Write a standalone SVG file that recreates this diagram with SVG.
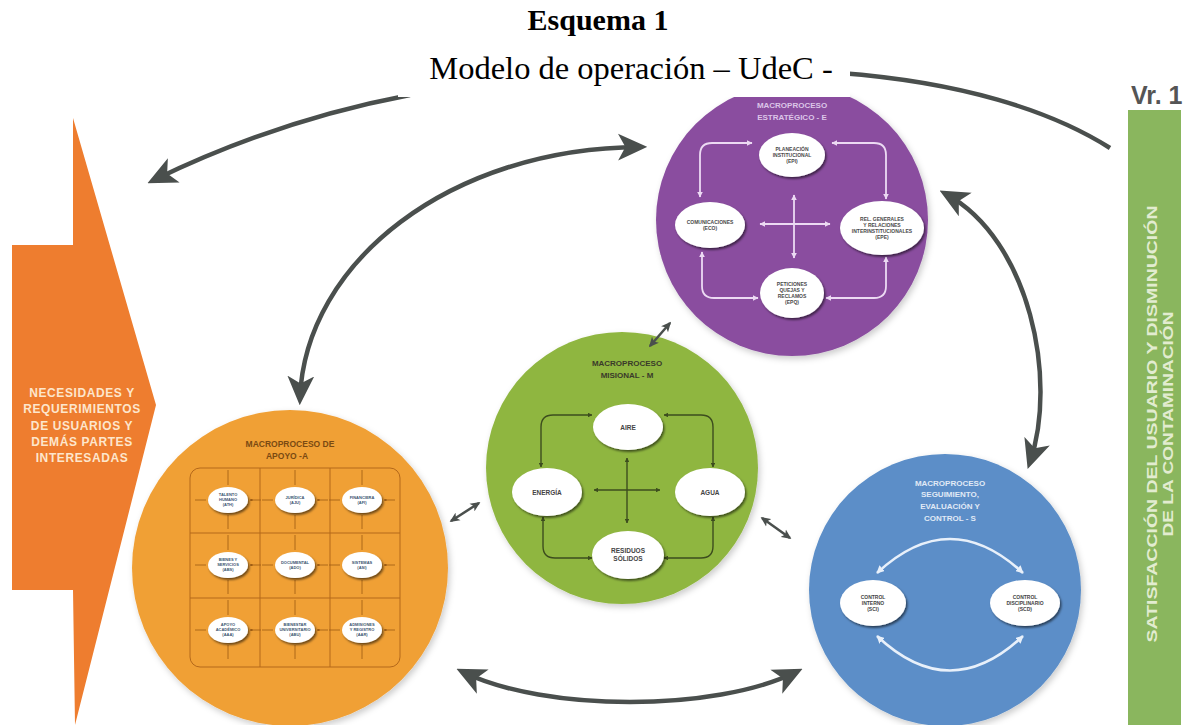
<svg xmlns="http://www.w3.org/2000/svg" width="1193" height="725" viewBox="0 0 1193 725">
<defs>
<style>
.t{font-family:"Liberation Sans",Arial,sans-serif;font-weight:bold;text-anchor:middle}
.big{fill:none;stroke:#4a4f4d;stroke-width:4.5;stroke-linecap:butt}
.sml{fill:none;stroke:#4a4f4d;stroke-width:2.5}
.pl{fill:none;stroke:#ecdaf3;stroke-width:1.8}
.gl{fill:none;stroke:#3d4d1e;stroke-width:1.4}
.bl{fill:none;stroke:#e8f0fa;stroke-width:2.6}
.ol{fill:none;stroke:#9c5a12;stroke-width:0.8}
.ell{fill:#ffffff;filter:url(#sh)}
.pt{font-size:5px;fill:#4a4a4a}
.gt{font-size:6.5px;fill:#444}
.ot{font-size:4px;fill:#3b5570}
.btx{font-size:5px;fill:#444}
</style>
<filter id="sh" x="-30%" y="-30%" width="170%" height="170%">
<feDropShadow dx="1.5" dy="2" stdDeviation="1.2" flood-color="#000" flood-opacity="0.55"/>
</filter>
<filter id="csh" x="-10%" y="-10%" width="125%" height="125%">
<feDropShadow dx="2" dy="3" stdDeviation="3" flood-color="#000" flood-opacity="0.2"/>
</filter>
<marker id="ah" viewBox="0 0 12 12" refX="9" refY="6" markerWidth="6.5" markerHeight="6.5" orient="auto-start-reverse" markerUnits="strokeWidth">
<path d="M0,0.5 L12,6 L0,11.5 L3,6 z" fill="#4a4f4d"/>
</marker>
<marker id="ahs" viewBox="0 0 12 12" refX="10" refY="6" markerWidth="4" markerHeight="4" orient="auto-start-reverse" markerUnits="strokeWidth">
<path d="M0,0.5 L12,6 L0,11.5 L3,6 z" fill="#4a4f4d"/>
</marker>
<marker id="ap" viewBox="0 0 10 10" refX="9" refY="5" markerWidth="3.2" markerHeight="3.2" orient="auto-start-reverse" markerUnits="strokeWidth">
<path d="M0,0 L10,5 L0,10 z" fill="#ecdaf3"/>
</marker>
<marker id="ag" viewBox="0 0 10 10" refX="9" refY="5" markerWidth="3.5" markerHeight="3.5" orient="auto-start-reverse" markerUnits="strokeWidth">
<path d="M0,0 L10,5 L0,10 z" fill="#3d4d1e"/>
</marker>
<marker id="ab" viewBox="0 0 10 10" refX="9" refY="5" markerWidth="3" markerHeight="3" orient="auto-start-reverse" markerUnits="strokeWidth">
<path d="M0,0 L10,5 L0,10 z" fill="#e8f0fa"/>
</marker>
<marker id="ao" viewBox="0 0 10 10" refX="9" refY="5" markerWidth="3.5" markerHeight="3.5" orient="auto" markerUnits="strokeWidth">
<path d="M0,0 L10,5 L0,10 z" fill="#9c5a12"/>
</marker>
<g id="ticks">
<path class="ol" marker-end="url(#ao)" d="M0,-30 V-15 M0,29 V15 M-33,0 H-22 M33,0 H22"/>
</g>
</defs>

<rect width="1193" height="725" fill="#ffffff"/>

<!-- input arrow -->
<g id="input-needs">
<path d="M73,118 L156,405 L75,725 L73,590 L12,590 L12,245 L73,245 Z" fill="#ee7d2f"/>
<g class="t" style="font-size:12px;letter-spacing:0.6px" fill="#fde6cc">
<text x="82" y="397">NECESIDADES Y</text>
<text x="82" y="413">REQUERIMIENTOS</text>
<text x="82" y="430">DE USUARIOS Y</text>
<text x="82" y="446">DEMÁS PARTES</text>
<text x="82" y="462">INTERESADAS</text>
</g>
</g>

<!-- output bar -->
<g id="output-bar">
<text x="1131" y="104" style="font-family:'Liberation Sans',Arial,sans-serif;font-weight:bold;font-size:25px" fill="#555">Vr. 1</text>
<rect x="1128" y="110" width="53" height="615" fill="#8ab65e"/>
<g class="t" style="font-size:15px" fill="#e2ecd0">
<text transform="translate(1157,424) rotate(-90)" textLength="437" lengthAdjust="spacingAndGlyphs">SATISFACCIÓN DEL USUARIO Y DISMINUCIÓN</text>
<text transform="translate(1173,424) rotate(-90)" textLength="225" lengthAdjust="spacingAndGlyphs">DE LA CONTAMINACIÓN</text>
</g>
</g>

<!-- purple: strategic -->
<g id="macro-estrategico">
<circle cx="792" cy="220" r="136" fill="#8a4e9f" filter="url(#csh)"/>
<g class="t" style="font-size:8px" fill="#dcc5e8">
<text x="792" y="108">MACROPROCESO</text>
<text x="792" y="120">ESTRATÉGICO - E</text>
</g>
<path class="pl" marker-start="url(#ap)" marker-end="url(#ap)" d="M752,143 H712 Q700,143 700,155 V197"/>
<path class="pl" marker-start="url(#ap)" marker-end="url(#ap)" d="M832,143 H874 Q886,143 886,155 V199"/>
<path class="pl" marker-start="url(#ap)" marker-end="url(#ap)" d="M702,252 V286 Q702,298 714,298 H758"/>
<path class="pl" marker-start="url(#ap)" marker-end="url(#ap)" d="M886,257 V286 Q886,298 874,298 H826"/>
<path class="pl" marker-start="url(#ap)" marker-end="url(#ap)" d="M794,195 V258"/>
<path class="pl" marker-start="url(#ap)" marker-end="url(#ap)" d="M760,224 H830"/>
<ellipse class="ell" cx="792" cy="155" rx="33" ry="22"/>
<ellipse class="ell" cx="710" cy="225" rx="35" ry="23"/>
<ellipse class="ell" cx="882" cy="228" rx="42" ry="27"/>
<ellipse class="ell" cx="792" cy="293" rx="32" ry="25"/>
<g class="t pt">
<text x="792" y="151">PLANEACIÓN</text><text x="792" y="157">INSTITUCIONAL</text><text x="792" y="163">(EPI)</text>
<text x="710" y="224">COMUNICACIONES</text><text x="710" y="230">(ECO)</text>
<text x="882" y="221">REL. GENERALES</text><text x="882" y="227">Y RELACIONES</text><text x="882" y="233">INTERINSTITUCIONALES</text><text x="882" y="239">(EPE)</text>
<text x="792" y="286">PETICIONES</text><text x="792" y="292">QUEJAS Y</text><text x="792" y="298">RECLAMOS</text><text x="792" y="304">(EPQ)</text>
</g>
</g>

<!-- green: misional -->
<g id="macro-misional">
<circle cx="622" cy="468" r="136" fill="#8fb640" filter="url(#csh)"/>
<g class="t" style="font-size:8px" fill="#3a3a2a">
<text x="627" y="366">MACROPROCESO</text>
<text x="627" y="378">MISIONAL - M</text>
</g>
<path class="gl" marker-start="url(#ag)" marker-end="url(#ag)" d="M592,415 H553 Q541,415 541,427 V467"/>
<path class="gl" marker-start="url(#ag)" marker-end="url(#ag)" d="M664,415 H701 Q713,415 713,427 V467"/>
<path class="gl" marker-start="url(#ag)" marker-end="url(#ag)" d="M543,517 V546 Q543,558 555,558 H592"/>
<path class="gl" marker-start="url(#ag)" marker-end="url(#ag)" d="M713,517 V546 Q713,558 701,558 H664"/>
<path class="gl" marker-start="url(#ag)" marker-end="url(#ag)" d="M627,458 V523"/>
<path class="gl" marker-start="url(#ag)" marker-end="url(#ag)" d="M594,490 H660"/>
<ellipse class="ell" cx="628" cy="427" rx="35" ry="23"/>
<ellipse class="ell" cx="547" cy="492" rx="35" ry="24"/>
<ellipse class="ell" cx="710" cy="492" rx="35" ry="24"/>
<ellipse class="ell" cx="628" cy="555" rx="36" ry="24"/>
<g class="t gt">
<text x="628" y="429.5">AIRE</text>
<text x="547" y="494.5">ENERGÍA</text>
<text x="710" y="494.5">AGUA</text>
<text x="628" y="553">RESIDUOS</text><text x="628" y="561">SÓLIDOS</text>
</g>
</g>

<!-- orange: apoyo -->
<g id="macro-apoyo">
<circle cx="290" cy="568" r="158" fill="#f0a036" filter="url(#csh)"/>
<g class="t" style="font-size:8.5px" fill="#7a4a12">
<text x="290" y="447">MACROPROCESO DE</text>
<text x="287" y="459">APOYO -A</text>
</g>
<rect x="190" y="468" width="210" height="199" rx="10" fill="none" stroke="#b4681a" stroke-width="1"/>
<path d="M260,468 V667 M330,468 V667 M190,533 H400 M190,598 H400" stroke="#b4681a" stroke-width="1" fill="none"/>
<use href="#ticks" x="228" y="500"/><use href="#ticks" x="295" y="500"/><use href="#ticks" x="362" y="500"/>
<use href="#ticks" x="228" y="565"/><use href="#ticks" x="295" y="565"/><use href="#ticks" x="362" y="565"/>
<use href="#ticks" x="228" y="630"/><use href="#ticks" x="295" y="630"/><use href="#ticks" x="362" y="630"/>
<g class="ell">
<ellipse cx="228" cy="500" rx="20" ry="13"/><ellipse cx="295" cy="500" rx="20" ry="13"/><ellipse cx="362" cy="500" rx="20" ry="13"/>
<ellipse cx="228" cy="565" rx="20" ry="13"/><ellipse cx="295" cy="565" rx="20" ry="13"/><ellipse cx="362" cy="565" rx="20" ry="13"/>
<ellipse cx="228" cy="630" rx="20" ry="13"/><ellipse cx="295" cy="630" rx="20" ry="13"/><ellipse cx="362" cy="630" rx="20" ry="13"/>
</g>
<g class="t ot">
<text x="228" y="496">TALENTO</text><text x="228" y="501">HUMANO</text><text x="228" y="506">(ATH)</text>
<text x="295" y="498.5">JURÍDICA</text><text x="295" y="503.5">(AJU)</text>
<text x="362" y="498.5">FINANCIERA</text><text x="362" y="503.5">(AFI)</text>
<text x="228" y="561">BIENES Y</text><text x="228" y="566">SERVICIOS</text><text x="228" y="571">(ABS)</text>
<text x="295" y="563.5">DOCUMENTAL</text><text x="295" y="568.5">(ADO)</text>
<text x="362" y="563.5">SISTEMAS</text><text x="362" y="568.5">(ASI)</text>
<text x="228" y="626">APOYO</text><text x="228" y="631">ACADÉMICO</text><text x="228" y="636">(AAA)</text>
<text x="295" y="626">BIENESTAR</text><text x="295" y="631">UNIVERSITARIO</text><text x="295" y="636">(ABU)</text>
<text x="362" y="626">ADMISIONES</text><text x="362" y="631">Y REGISTRO</text><text x="362" y="636">(AAR)</text>
</g>
</g>

<!-- blue: seguimiento -->
<g id="macro-seguimiento">
<circle cx="945" cy="590" r="136" fill="#5b8ec8" filter="url(#csh)"/>
<g class="t" style="font-size:8px" fill="#e0eaf6">
<text x="950" y="486">MACROPROCESO</text>
<text x="950" y="497">SEGUIMIENTO,</text>
<text x="950" y="509">EVALUACIÓN Y</text>
<text x="950" y="521">CONTROL - S</text>
</g>
<path class="bl" marker-start="url(#ab)" marker-end="url(#ab)" d="M877,573 Q950,505 1023,573"/>
<path class="bl" marker-start="url(#ab)" marker-end="url(#ab)" d="M877,636 Q950,705 1023,636"/>
<ellipse class="ell" cx="873" cy="603" rx="33" ry="23"/>
<ellipse class="ell" cx="1025" cy="603" rx="35" ry="23"/>
<g class="t btx">
<text x="873" y="599">CONTROL</text><text x="873" y="605">INTERNO</text><text x="873" y="611">(SCI)</text>
<text x="1025" y="599">CONTROL</text><text x="1025" y="605">DISCIPLINARIO</text><text x="1025" y="611">(SCD)</text>
</g>
</g>

<!-- connectors -->
<g id="connectors">
<path class="big" marker-end="url(#ah)" d="M410,95 C320,112 232,142 154,180"/>
<path class="big" d="M840,73 C960,82 1050,110 1110,148"/>
<path class="big" marker-start="url(#ah)" marker-end="url(#ah)" d="M300,398 C305,262 450,148 640,147"/>
<path class="big" marker-start="url(#ah)" marker-end="url(#ah)" d="M946,194 C1030,240 1058,380 1030,462"/>
<path class="big" marker-start="url(#ah)" marker-end="url(#ah)" d="M463,672 C545,712 715,712 796,672"/>
<path class="sml" marker-start="url(#ahs)" marker-end="url(#ahs)" d="M650,346 L670,323"/>
<path class="sml" marker-start="url(#ahs)" marker-end="url(#ahs)" d="M451,521 L479,503"/>
<path class="sml" marker-start="url(#ahs)" marker-end="url(#ahs)" d="M762,518 L790,538"/>
</g>

<!-- title -->
<g id="title">
<rect x="398" y="42" width="452" height="55" fill="#ffffff"/>
<text x="598" y="30" style="font-family:'Liberation Serif','Times New Roman',serif;font-weight:bold;font-size:30px;text-anchor:middle" fill="#000">Esquema 1</text>
<text x="631" y="79" style="font-family:'Liberation Serif','Times New Roman',serif;font-size:32.5px;text-anchor:middle" fill="#000">Modelo de operación – UdeC -</text>
</g>
</svg>
